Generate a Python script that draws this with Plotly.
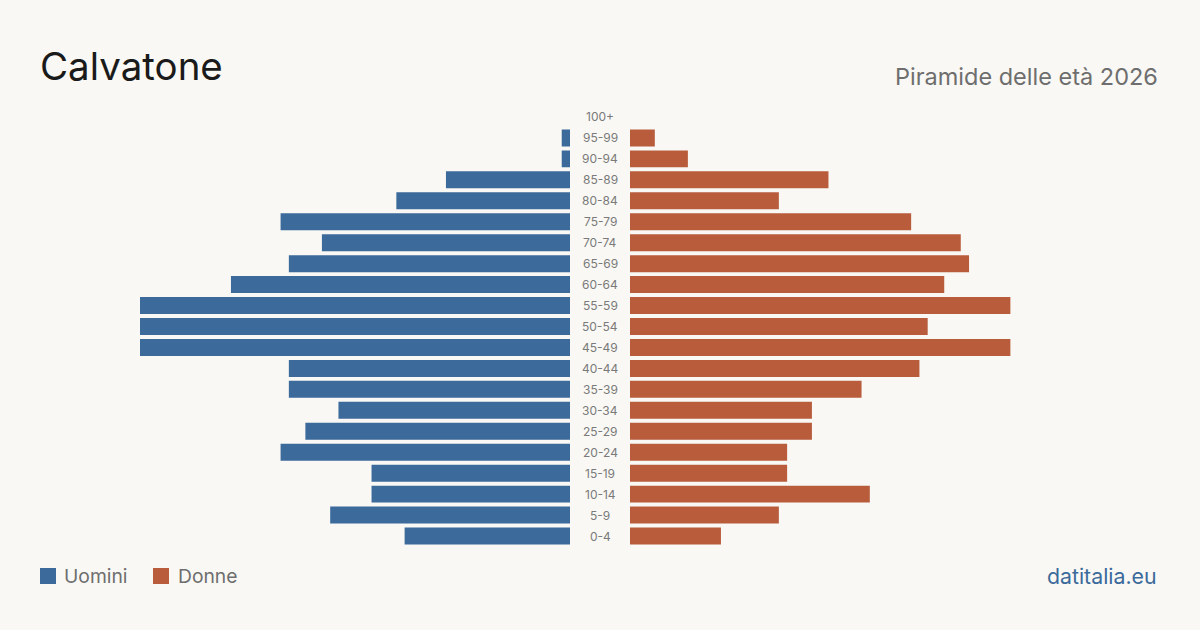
import plotly.graph_objects as go

ages = ["0-4", "5-9", "10-14", "15-19", "20-24", "25-29", "30-34", "35-39", "40-44",
        "45-49", "50-54", "55-59", "60-64", "65-69", "70-74", "75-79", "80-84",
        "85-89", "90-94", "95-99", "100+"]
uomini = [20, 29, 24, 24, 35, 32, 28, 34, 34, 52, 52, 52, 41, 34, 30, 35, 21, 15, 1, 1, 0]
donne = [11, 18, 29, 19, 19, 22, 22, 28, 35, 46, 36, 46, 38, 41, 40, 34, 18, 24, 7, 3, 0]

BG = "#f9f8f4"
BLUE = "#3b6a9b"
ORANGE = "#b85c3c"
FONT = "Inter"

xmax = 52
y_dom = [(630 - 546.5) / 630, (630 - 106.5) / 630]

fig = go.Figure()
fig.add_trace(go.Bar(y=ages, x=uomini, orientation="h", marker_color=BLUE,
                     marker_line_width=0,
                     name="Uomini", xaxis="x", yaxis="y", showlegend=False,
                     hovertemplate="%{y}: %{x}<extra>Uomini</extra>"))
fig.add_trace(go.Bar(y=ages, x=donne, orientation="h", marker_color=ORANGE,
                     marker_line_width=0,
                     name="Donne", xaxis="x2", yaxis="y", showlegend=False,
                     hovertemplate="%{y}: %{x}<extra>Donne</extra>"))

annotations = []
for a in ages:
    annotations.append(dict(x=0.5, xref="paper", y=a, yref="y", text=a, showarrow=False,
                            font=dict(family=FONT, size=12, color="#7a7a7a"),
                            xanchor="center", yanchor="middle"))

annotations += [
    dict(x=38 / 1200, y=1 - 66 / 630, xref="paper", yref="paper", text="Calvatone",
         showarrow=False, xanchor="left", yanchor="middle",
         font=dict(family=FONT, size=38.5, color="#1a1a1a")),
    dict(x=1160 / 1200, y=1 - 76 / 630, xref="paper", yref="paper",
         text="Piramide delle età 2026", showarrow=False, xanchor="right", yanchor="middle",
         font=dict(family=FONT, size=23.5, color="#6e6e6e")),
    dict(x=62 / 1200, y=1 - 576 / 630, xref="paper", yref="paper", text="Uomini",
         showarrow=False, xanchor="left", yanchor="middle",
         font=dict(family=FONT, size=19.3, color="#6e6e6e")),
    dict(x=176 / 1200, y=1 - 576 / 630, xref="paper", yref="paper", text="Donne",
         showarrow=False, xanchor="left", yanchor="middle",
         font=dict(family=FONT, size=19.3, color="#6e6e6e")),
    dict(x=1159 / 1200, y=1 - 576 / 630, xref="paper", yref="paper", text="datitalia.eu",
         showarrow=False, xanchor="right", yanchor="middle",
         font=dict(family=FONT, size=21.3, color=BLUE)),
]

shapes = [
    dict(type="rect", xref="paper", yref="paper", x0=40 / 1200, x1=56 / 1200,
         y0=1 - 584 / 630, y1=1 - 568 / 630, fillcolor=BLUE, line_width=0),
    dict(type="rect", xref="paper", yref="paper", x0=153 / 1200, x1=169 / 1200,
         y0=1 - 584 / 630, y1=1 - 568 / 630, fillcolor=ORANGE, line_width=0),
]

fig.update_layout(
    width=1200, height=630,
    margin=dict(l=0, r=0, t=0, b=0),
    paper_bgcolor=BG, plot_bgcolor=BG,
    bargap=0.19,
    xaxis=dict(domain=[140 / 1200, 570 / 1200], range=[xmax, 0], visible=False, fixedrange=True),
    xaxis2=dict(domain=[630 / 1200, 1060 / 1200], range=[0, xmax], visible=False, fixedrange=True),
    yaxis=dict(domain=y_dom, categoryorder="array", categoryarray=ages,
               range=[-0.5, len(ages) - 0.5], visible=False, fixedrange=True),
    annotations=annotations,
    shapes=shapes,
    font=dict(family=FONT),
)

fig.write_html("out.html")
